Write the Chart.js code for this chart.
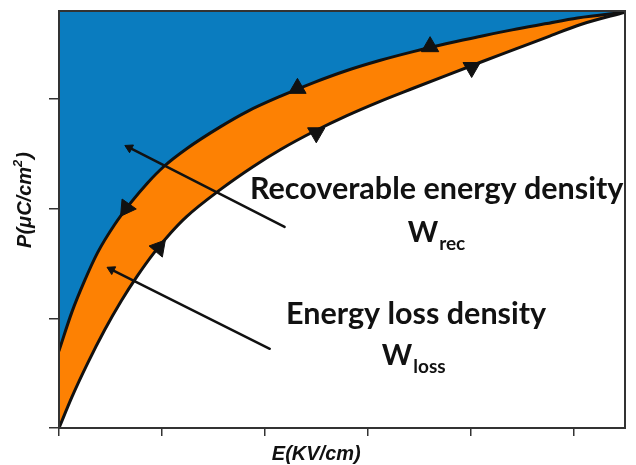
<!DOCTYPE html>
<html>
<head>
<meta charset="utf-8">
<script src="https://cdn.jsdelivr.net/npm/chart.js@4.4.1/dist/chart.umd.min.js"></script>
<style>
  html, body { margin: 0; padding: 0; background: #ffffff; }
  #wrap { width: 636px; height: 465px; }
</style>
</head>
<body>
<div id="wrap"><canvas id="c" width="636" height="465"></canvas></div>
<script>
// Discharge branch (upper curve) of the P–E loop
const dischargeE = [0, 0.125, 0.250, 0.375, 0.538, 0.702, 0.856, 1.019, 1.240, 1.567, 1.837, 2.154, 2.481, 2.798, 3.115, 3.442, 3.760, 4.077, 4.404, 4.721, 5.038, 5.500];
const dischargeP = [0.704, 1.056, 1.345, 1.598, 1.850, 2.058, 2.229, 2.383, 2.545, 2.744, 2.888, 3.024, 3.150, 3.258, 3.349, 3.430, 3.502, 3.565, 3.628, 3.683, 3.737, 3.790];

// Charge branch (lower curve)
const chargeE = [0, 0.125, 0.279, 0.442, 0.606, 0.760, 0.923, 1.087, 1.240, 1.567, 1.885, 2.154, 2.481, 2.798, 3.115, 3.442, 3.760, 4.115, 4.433, 4.750, 5.077, 5.500];
const chargeP = [0, 0.282, 0.592, 0.891, 1.160, 1.384, 1.596, 1.780, 1.927, 2.172, 2.381, 2.538, 2.704, 2.847, 2.975, 3.096, 3.212, 3.340, 3.452, 3.565, 3.679, 3.790];

// Direction markers along each branch (position and heading in degrees)
const dischargeArrowE = [0.654, 2.317, 3.606];
const dischargeArrowP = [2.004, 3.095, 3.475];
const dischargeArrowAngle = [215, 0, 0];
const chargeArrowE = [0.971, 2.500, 4.010];
const chargeArrowP = [1.643, 2.690, 3.285];
const chargeArrowAngle = [40, 180, 180];

// Pointer arrows from the labels into the shaded areas: [tail, tip]
const recPointerE = [2.192, 0.683];
const recPointerP = [1.832, 2.554];
const lossPointerE = [2.048, 0.510];
const lossPointerP = [0.722, 1.444];

// Axis ticks (unlabelled)
const xTicks = [0, 1, 2, 3, 4, 5];
const yTicks = [0, 1, 2, 3];
const xMax = 5.5;
const yMax = 3.8;

const toPoints = (xs, ys) => xs.map((x, i) => ({ x: x, y: ys[i] }));

const BLUE = '#0a7cbf';
const ORANGE = '#fd8103';
const INK = '#111111';

// Text labels anchored in data units (centre x, baseline y)
const annotations = [
  { text: 'Recoverable energy density', sub: '', x: 3.670, y: 2.085, size: 30.5 },
  { text: 'W', sub: 'rec', x: 3.663, y: 1.697, size: 29 },
  { text: 'Energy loss density', sub: '', x: 3.470, y: 0.948, size: 30.5 },
  { text: 'W', sub: 'loss', x: 3.442, y: 0.578, size: 29 }
];

const overlay = {
  id: 'overlay',
  afterDatasetsDraw(chart) {
    const { ctx, chartArea: a } = chart;
    ctx.save();
    ctx.strokeStyle = '#333333';
    ctx.lineWidth = 2;
    ctx.strokeRect(a.left, a.top, a.right - a.left, a.bottom - a.top);
    ctx.restore();
  },
  afterDraw(chart) {
    const { ctx, chartArea: a, scales } = chart;
    const sx = scales.x, sy = scales.y;
    ctx.save();
    ctx.fillStyle = INK;
    ctx.textBaseline = 'alphabetic';
    const family = 'Lato, "Open Sans", sans-serif';
    annotations.forEach(an => {
      const cx = sx.getPixelForValue(an.x);
      const by = sy.getPixelForValue(an.y);
      ctx.font = 'bold ' + an.size + 'px ' + family;
      const wMain = ctx.measureText(an.text).width;
      const subSize = Math.round(an.size * 0.66);
      let wSub = 0;
      if (an.sub) {
        ctx.font = 'bold ' + subSize + 'px ' + family;
        wSub = ctx.measureText(an.sub).width;
      }
      const left = cx - (wMain + wSub) / 2;
      ctx.textAlign = 'left';
      ctx.font = 'bold ' + an.size + 'px ' + family;
      ctx.fillText(an.text, left, by);
      if (an.sub) {
        ctx.font = 'bold ' + subSize + 'px ' + family;
        ctx.fillText(an.sub, left + wMain + 1, by + 8);
      }
    });

    // Axis titles
    const tf = 'italic bold 20px "Liberation Sans", Arial, sans-serif';
    const sf = 'italic bold 13px "Liberation Sans", Arial, sans-serif';
    ctx.font = tf;
    ctx.textAlign = 'center';
    ctx.textBaseline = 'alphabetic';
    ctx.fillText('E(KV/cm)', sx.getPixelForValue(2.5), a.bottom + 32);

    ctx.translate(a.left - 28, (a.top + a.bottom) / 2 - 19);
    ctx.rotate(-Math.PI / 2);
    const main = 'P(\u03BCC/cm';
    const supS = '2';
    const close = ')';
    ctx.font = tf;
    const w1 = ctx.measureText(main).width;
    const w3 = ctx.measureText(close).width;
    ctx.font = sf;
    const w2 = ctx.measureText(supS).width;
    const x0 = -(w1 + w2 + w3) / 2;
    ctx.textAlign = 'left';
    ctx.font = tf;
    ctx.fillText(main, x0, 0);
    ctx.font = sf;
    ctx.fillText(supS, x0 + w1, -9);
    ctx.font = tf;
    ctx.fillText(close, x0 + w1 + w2 + 1, 0);
    ctx.restore();
  }
};

const arrowDataset = (xs, ys, angles) => ({
  type: 'scatter',
  data: toPoints(xs, ys),
  showLine: false,
  pointStyle: 'triangle',
  pointRadius: 10,
  pointRotation: angles,
  pointBackgroundColor: INK,
  pointBorderColor: INK,
  pointBorderWidth: 1,
  order: 0
});

const pointerDataset = (xs, ys, angle) => ({
  type: 'line',
  data: toPoints(xs, ys),
  borderColor: INK,
  borderWidth: 2.5,
  fill: false,
  tension: 0,
  pointStyle: 'triangle',
  pointRadius: [0, 5],
  pointRotation: [0, angle],
  pointBackgroundColor: INK,
  pointBorderColor: INK,
  pointBorderWidth: 1,
  order: 0
});

new Chart(document.getElementById('c'), {
  type: 'line',
  data: {
    datasets: [
      {
        label: 'Discharge',
        data: toPoints(dischargeE, dischargeP),
        borderColor: INK,
        borderWidth: 3,
        backgroundColor: BLUE,
        fill: 'end',
        pointRadius: 0,
        cubicInterpolationMode: 'monotone',
        order: 2
      },
      {
        label: 'Charge',
        data: toPoints(chargeE, chargeP),
        borderColor: INK,
        borderWidth: 3,
        backgroundColor: ORANGE,
        fill: 0,
        pointRadius: 0,
        cubicInterpolationMode: 'monotone',
        order: 2
      },
      arrowDataset(dischargeArrowE, dischargeArrowP, dischargeArrowAngle),
      arrowDataset(chargeArrowE, chargeArrowP, chargeArrowAngle),
      pointerDataset(recPointerE, recPointerP, 297),
      pointerDataset(lossPointerE, lossPointerP, 297)
    ]
  },
  options: {
    responsive: false,
    animation: false,
    devicePixelRatio: 1,
    layout: { padding: { top: 7, right: 5, left: 0, bottom: 0 } },
    plugins: {
      legend: { display: false },
      tooltip: { enabled: false },
      filler: { drawTime: 'beforeDatasetsDraw' }
    },
    elements: { line: { borderCapStyle: 'round', borderJoinStyle: 'round' } },
    scales: {
      x: {
        type: 'linear',
        min: 0,
        max: xMax,
        ticks: { display: false },
        grid: { drawOnChartArea: false, drawTicks: true, tickLength: 8, color: '#333333', lineWidth: 1.5 },
        border: { display: true, color: '#333333', width: 2 },
        afterBuildTicks(s) { s.ticks = xTicks.map(v => ({ value: v })); },
        afterFit(s) { s.height = 37; }
      },
      y: {
        type: 'linear',
        min: 0,
        max: yMax,
        ticks: { display: false },
        grid: { drawOnChartArea: false, drawTicks: true, tickLength: 10, color: '#333333', lineWidth: 1.5 },
        border: { display: true, color: '#333333', width: 2 },
        afterBuildTicks(s) { s.ticks = yTicks.map(v => ({ value: v })); },
        afterFit(s) { s.width = 59; }
      }
    }
  },
  plugins: [overlay]
});
</script>
</body>
</html>
